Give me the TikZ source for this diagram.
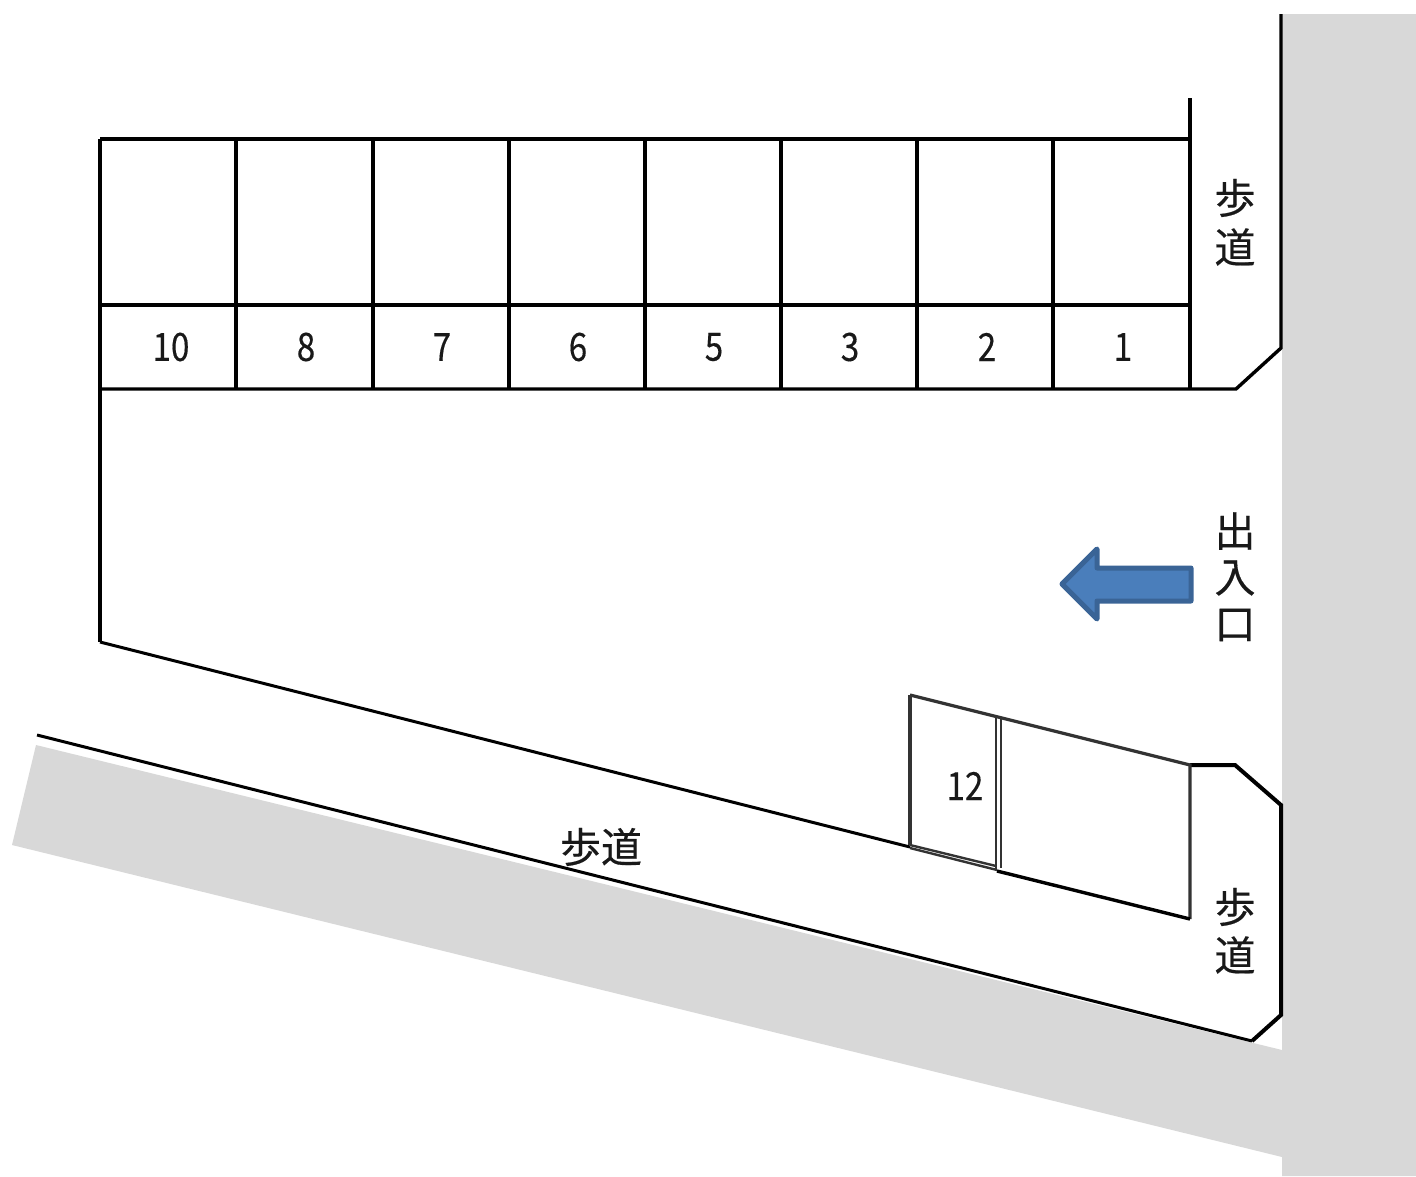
\documentclass[tikz,border=0pt]{standalone}
\usepackage{fontspec}
\setmainfont{Liberation Sans}
\newfontfamily\jpfont[FakeBold=0.4]{Noto Sans CJK JP}
\newfontfamily\numfont[FakeStretch=0.85,FakeBold=0.3]{Noto Sans CJK JP}
\definecolor{roadgray}{HTML}{D8D8D8}
\definecolor{arrowfill}{HTML}{4A7EBB}
\definecolor{arrowline}{HTML}{3A6496}
\tikzset{
  thickline/.style={draw=black,line width=3.4pt,line join=miter},
  midline/.style={draw=black,line width=3pt,line join=miter},
  thinline/.style={draw=black!80,line width=3.2pt,line join=miter},
  numlabel/.style={inner sep=0pt,font=\numfont\fontsize{39}{39}\selectfont,text=black!90},
  kanji/.style={inner sep=0pt,font=\jpfont\fontsize{41}{41}\selectfont,text=black!90}
}
\begin{document}
\begin{tikzpicture}[x=1pt,y=-1pt]
\useasboundingbox (0,0) rectangle (1416,1176);
% grey roads
\fill[roadgray] (1282,14) -- (1416,14) -- (1416,1176) -- (1282,1176) -- (1282,1157) -- (12,845) -- (36,745) -- (1282,1050) -- cycle;
% parking block
\draw[thickline] (1190,98) -- (1190,389);
\draw[thickline] (100,139) -- (1190,139);
\draw[thickline] (100,305) -- (1190,305);
\foreach \xx in {236,373,509,645,781,917,1053} \draw[thickline] (\xx,139) -- (\xx,389);
% outer boundary
\draw[thickline] (1281,14) -- (1281,348) -- (1236,389) -- (100,389);
\draw[thickline] (100,139) -- (100,642);
\draw[midline] (100,642) -- (910,847);
% lower boundary
\draw[midline] (37,735) -- (1252,1041);
\draw[thickline,line width=4pt] (1252,1041) -- (1281,1015) -- (1281,805) -- (1235,765) -- (1190,765);
% lower-right bay
\draw[thinline] (910,695) -- (1190,765) -- (1190,919);
\draw[thinline] (910,695) -- (910,845);
\draw[thinline,line width=2.4pt] (910,845) -- (996,866);
\draw[thinline,line width=2.4pt] (910,848) -- (997,870);
\draw[thinline,line width=2.4pt] (996,717) -- (996,869);
\draw[thinline,line width=2.4pt] (1001,718) -- (1001,868);
\draw[midline,line width=3.4pt] (997,871) -- (1190,919);
% arrow
\draw[fill=arrowfill,draw=arrowline,line width=5pt,line join=round]
  (1062,584) -- (1097,549) -- (1097,568) -- (1191,568) -- (1191,601) -- (1097,601) -- (1097,619) -- cycle;
% numbers
\node[numlabel] (n10) at (171,347) {10};
\node[numlabel] (n8) at (306,347) {8};
\node[numlabel] (n7) at (442,347) {7};
\node[numlabel] (n6) at (578,347) {6};
\node[numlabel] (n5) at (714,347) {5};
\node[numlabel] (n3) at (850,347) {3};
\node[numlabel] (n2) at (987,347) {2};
\node[numlabel] (n1) at (1123,347) {1};
\node[numlabel] (n12) at (965,786) {12};
% kanji
\node[kanji] (s1a) at (1235,198) {歩};
\node[kanji] (s1b) at (1235,247) {道};
\node[kanji] (g1) at (1235,531) {出};
\node[kanji] (g2) at (1235,578) {入};
\node[kanji] (g3) at (1235,625) {口};
\node[kanji] (s2) at (601,847) {歩道};
\node[kanji] (s3a) at (1235,907) {歩};
\node[kanji] (s3b) at (1235,955) {道};
\end{tikzpicture}
\end{document}
